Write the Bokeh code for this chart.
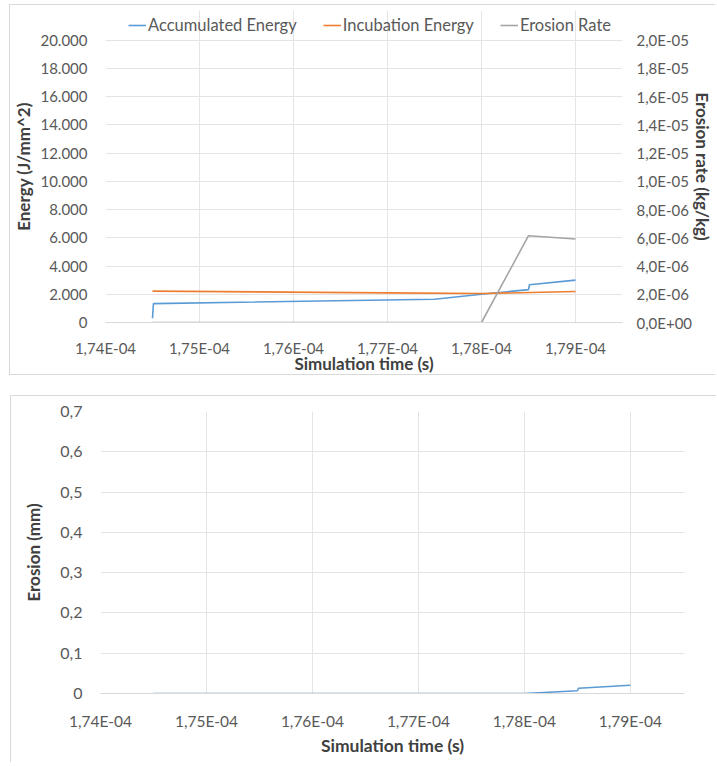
from bokeh.plotting import figure
from bokeh.models import (Range1d, LinearAxis, FixedTicker, CustomJSTickFormatter,
                          Legend, LegendItem)
from bokeh.embed import file_html
from bokeh.resources import INLINE

# ---------------- data ----------------
x_ticks = [1.74e-4, 1.75e-4, 1.76e-4, 1.77e-4, 1.78e-4, 1.79e-4]
x_min, x_max = 1.74e-4, 1.795e-4
energy_ticks = [0, 2000, 4000, 6000, 8000, 10000, 12000, 14000, 16000, 18000, 20000]
rate_ticks = [0, 2e-6, 4e-6, 6e-6, 8e-6, 1e-5, 1.2e-5, 1.4e-5, 1.6e-5, 1.8e-5, 2e-5]
erosion_ticks = [0, 0.1, 0.2, 0.3, 0.4, 0.5, 0.6, 0.7]

time_acc = [1.745e-4, 1.7451e-4, 1.775e-4, 1.780e-4, 1.785e-4, 1.7851e-4, 1.790e-4]
accumulated_energy = [300, 1340, 1650, 2000, 2330, 2680, 3000]

time_inc = [1.745e-4, 1.770e-4, 1.780e-4, 1.790e-4]
incubation_energy = [2220, 2100, 2050, 2200]

time_rate = [1.745e-4, 1.780e-4, 1.785e-4, 1.790e-4]
erosion_rate = [0, 0, 6.15e-6, 5.92e-6]

time_ero = [1.745e-4, 1.780e-4, 1.785e-4, 1.7851e-4, 1.790e-4]
erosion_mm = [0, 0, 0.0067, 0.013, 0.0206]

# ---------------- style ----------------
FONT = "Lato"
TXT = "#595959"
TITLE = "#404040"
GRID = "#e4e4e4"
AXL = "#d9d9d9"
BLUE, ORANGE, GREY = "#5B9BD5", "#ED7D31", "#A5A5A5"

# top chart: plot area is 285px tall; 30px extra above it hold the legend
PLOT_H, LEGEND_H = 285, 30
EXT = (PLOT_H + LEGEND_H) / PLOT_H

x_fmt = CustomJSTickFormatter(code="""
const s = tick.toExponential(2); const p = s.split('e'); const e = parseInt(p[1]);
return p[0].replace('.', ',') + 'E' + (e < 0 ? '-' : '+') + String(Math.abs(e)).padStart(2, '0');
""")
rate_fmt = CustomJSTickFormatter(code="""
const s = tick.toExponential(1); const p = s.split('e'); const e = parseInt(p[1]);
return p[0].replace('.', ',') + 'E' + (e < 0 ? '-' : '+') + String(Math.abs(e)).padStart(2, '0');
""")
energy_fmt = CustomJSTickFormatter(code="""
return String(Math.round(tick)).replace(/\\B(?=(\\d{3})+(?!\\d))/g, '.');
""")
ero_fmt = CustomJSTickFormatter(code="""
if (Math.abs(tick) < 1e-12) return '0';
return tick.toFixed(1).replace('.', ',');
""")


def style_axis(ax, size, line=None, title_size="17px"):
    ax.major_tick_line_color = None
    ax.minor_tick_line_color = None
    ax.major_tick_out = 0
    ax.major_tick_in = 0
    ax.minor_tick_out = 0
    ax.minor_tick_in = 0
    ax.axis_line_color = line
    ax.major_label_text_font = FONT
    ax.major_label_text_font_size = size
    ax.major_label_text_color = TXT
    ax.axis_label_text_font = FONT
    ax.axis_label_text_font_style = "bold"
    ax.axis_label_text_font_size = title_size
    ax.axis_label_text_color = TITLE


# ---------------- top chart ----------------
p1 = figure(width=706, height=371, output_backend="svg", toolbar_location=None,
            x_range=Range1d(x_min, x_max),
            y_range=Range1d(0, energy_ticks[-1] * EXT),
            min_border_left=93, min_border_right=88, min_border_top=5,
            min_border_bottom=51)
p1.margin = (4, 0, 0, 9)
p1.styles = {"border-left": "1px solid #d9d9d9", "border-top": "1px solid #d9d9d9",
             "border-bottom": "1px solid #d9d9d9"}
p1.extra_y_ranges = {"rate": Range1d(0, rate_ticks[-1] * EXT)}
p1.outline_line_color = None

p1.xaxis.ticker = FixedTicker(ticks=x_ticks)
p1.xaxis.formatter = x_fmt
p1.xaxis.axis_label = "Simulation time (s)"
style_axis(p1.xaxis[0], "15px", AXL)
p1.xaxis.major_label_standoff = 16
p1.xaxis.axis_label_standoff = -7

p1.yaxis.ticker = FixedTicker(ticks=energy_ticks)
p1.yaxis.formatter = energy_fmt
p1.yaxis.axis_label = "Energy (J/mm^2)"
style_axis(p1.yaxis[0], "15px")
p1.yaxis.major_label_standoff = 18
p1.yaxis.axis_label_standoff = 3

p1.xgrid.ticker = FixedTicker(ticks=x_ticks + [x_max])
p1.xgrid.bounds = (0, energy_ticks[-1])
p1.ygrid.ticker = FixedTicker(ticks=energy_ticks)
p1.xgrid.grid_line_color = GRID
p1.ygrid.grid_line_color = GRID

rax = LinearAxis(y_range_name="rate", ticker=FixedTicker(ticks=rate_ticks),
                 formatter=rate_fmt, axis_label="Erosion rate (kg/kg)")
style_axis(rax, "15px")
rax.major_label_standoff = 14
rax.axis_label_standoff = -3
p1.add_layout(rax, "right")

r_acc = p1.line(time_acc, accumulated_energy, line_color=BLUE, line_width=1.6)
r_inc = p1.line(time_inc, incubation_energy, line_color=ORANGE, line_width=1.6)
r_rate = p1.line(time_rate, erosion_rate, line_color=GREY, line_width=1.6,
                 y_range_name="rate")

legend = Legend(items=[LegendItem(label="Accumulated Energy", renderers=[r_acc]),
                       LegendItem(label="Incubation Energy", renderers=[r_inc]),
                       LegendItem(label="Erosion Rate", renderers=[r_rate])],
                orientation="horizontal", location=(23, 287),
                label_text_font=FONT, label_text_font_size="16.5px",
                label_text_color=TXT, glyph_width=18, glyph_height=16,
                label_height=16, label_standoff=2, spacing=26, padding=4,
                margin=0, border_line_color=None, background_fill_alpha=0)
p1.add_layout(legend)

# ---------------- bottom chart ----------------
p2 = figure(width=706, height=367, output_backend="svg", toolbar_location=None,
            x_range=Range1d(x_min, 1.7951e-4), y_range=Range1d(0, 0.7),
            min_border_left=89, min_border_right=33, min_border_top=15,
            min_border_bottom=70)
p2.margin = (20, 0, 0, 10)
p2.styles = {"border-left": "1px solid #d9d9d9", "border-top": "1px solid #d9d9d9"}
p2.outline_line_color = None

p2.xaxis.ticker = FixedTicker(ticks=x_ticks)
p2.xaxis.formatter = x_fmt
p2.xaxis.axis_label = "Simulation time (s)"
style_axis(p2.xaxis[0], "15.5px", AXL, "17.5px")
p2.xaxis.major_label_standoff = 18
p2.xaxis.axis_label_standoff = 2

p2.yaxis.ticker = FixedTicker(ticks=erosion_ticks)
p2.yaxis.formatter = ero_fmt
p2.yaxis.axis_label = "Erosion (mm)"
style_axis(p2.yaxis[0], "16px", None, "17px")
p2.yaxis.major_label_standoff = 18
p2.yaxis.axis_label_standoff = 13

p2.xgrid.ticker = FixedTicker(ticks=x_ticks)
p2.ygrid.ticker = FixedTicker(ticks=erosion_ticks)
p2.xgrid.grid_line_color = GRID
p2.ygrid.grid_line_color = GRID

p2.line(time_ero, erosion_mm, line_color=BLUE, line_width=1.6)

open("out.html", "w").write(file_html([p1, p2], INLINE))
